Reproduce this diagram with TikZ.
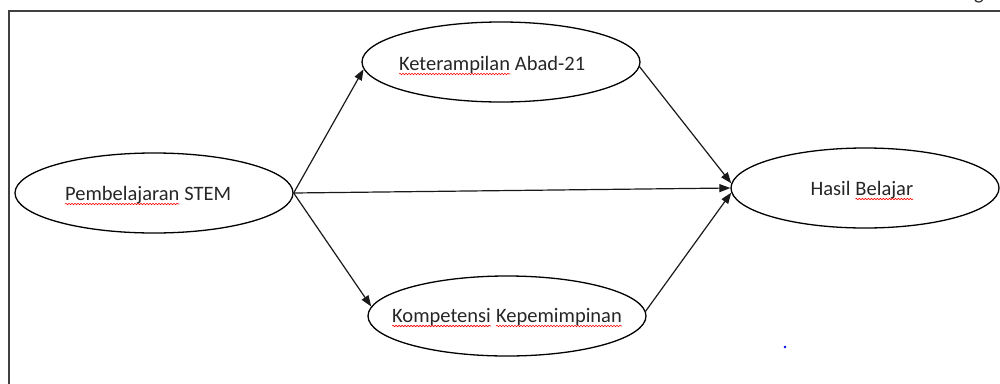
\documentclass[tikz,border=0pt]{standalone}
\usepackage{fontspec}
\setmainfont{Carlito}
\usetikzlibrary{shapes.geometric,arrows.meta,decorations.pathmorphing}

\tikzset{
  spell/.style={draw=red, line width=0.6pt, decorate,
    decoration={snake, amplitude=0.7pt, segment length=3pt}},
  bubble/.style={ellipse, draw=black, line width=1.3pt, inner sep=0pt,
    minimum width=278pt, minimum height=80pt},
  caption/.style={anchor=base, inner sep=0pt,
    font=\fontsize{20.5}{24}\selectfont, text=black!85},
  link/.style={line width=1.2pt, draw=black!90,
    -{Triangle[length=11pt,width=8pt]}},
  frame/.style={draw=black!75, line width=1.4pt}
}

% word with a red wavy underline
\newcommand{\spellmark}[1]{\tikz[baseline=(sw.base)]{%
  \node[inner sep=0pt,outer sep=0pt,draw=none,rectangle,minimum width=0pt,minimum height=0pt](sw){#1};%
  \draw[spell] ([yshift=-4pt]sw.base west) -- ([yshift=-4pt]sw.base east);}}

\begin{document}
\begin{tikzpicture}[x=1pt,y=-1pt]
  \useasboundingbox (0,0) rectangle (1000,383);

  % page frame
  \draw[frame] (9,400) -- (9,11) -- (1010,11);
  \node[caption] (gtail) at (979,-1) {g};

  % constructs
  \node[bubble] (stem) at (154,193) {};
  \node[bubble] (ket)  at (501,62)  {};
  \node[bubble] (kom)  at (507,316) {};
  \node[bubble, minimum width=268pt] (hasil) at (865,188) {};

  \node[caption] (stemtext)  at (148,200) {\spellmark{Pembelajaran} STEM};
  \node[caption] (kettext)   at (492,70)  {\spellmark{Keterampilan} Abad-21};
  \node[caption] (komtext)   at (507,322) {\spellmark{Kompetensi} \spellmark{Kepemimpinan}};
  \node[caption] (hasiltext) at (862,195) {Hasil \spellmark{Belajar}};

  % paths
  \draw[link] (stem.east) -- (ket.183.5);
  \draw[link] (stem.east) -- (kom.176.5);
  \draw[link] (stem.east) -- (hasil.180);
  \draw[link] (ket.358.5) -- (hasil.178);
  \draw[link] (kom.2.5) -- (hasil.182);

  % stray mark
  \fill[blue] (785,347) circle (1.3pt);
\end{tikzpicture}
\end{document}
